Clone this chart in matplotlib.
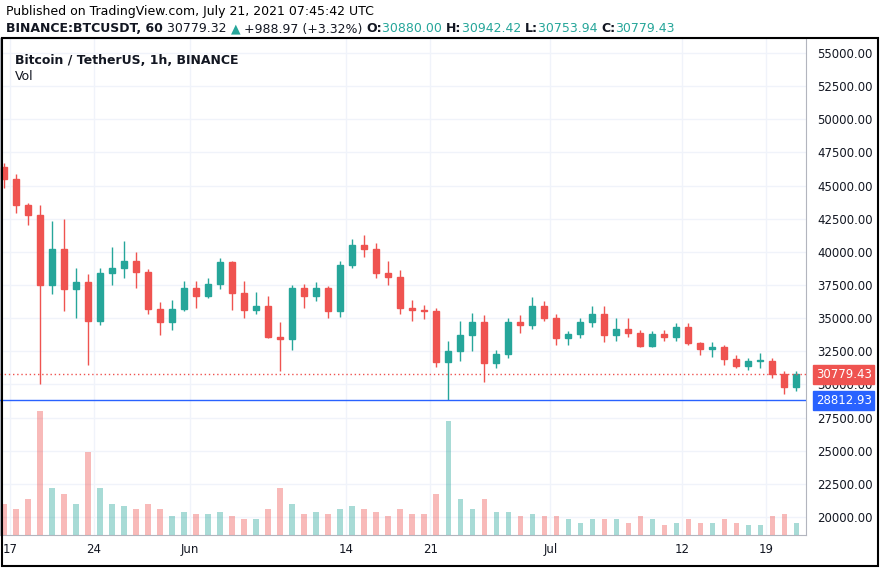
import matplotlib
matplotlib.use("Agg")
import matplotlib.pyplot as plt
from matplotlib.patches import Rectangle

# daily candles, day index relative to May 17 2021 (first = May 16)
first_open = 46400
closes = [45500,43500,42800,37500,40200,37200,37700,34800,38400,38800,39300,38500,35700,34700,35700,37300,
          36700,37600,39200,36900,35600,35900,33600,33400,37300,36700,37300,35500,39000,40500,40200,38400,38100,35800,35600,35500,31700,32500,33700,34700,31600,32300,34700,34500,35900,35000,
          33500,33800,34700,35300,33700,34200,33900,32900,33800,33600,34300,33100,32700,32800,31900,31400,31800,31800,30800,29800,30779]
highs = [46700,45900,43700,43500,42300,42500,38800,38300,38800,40400,40800,40000,38700,36200,36400,37800,
         37800,38000,39500,39300,37800,37000,36700,34700,37500,37600,37700,37400,39300,41000,41300,40700,39300,38600,36400,36000,35800,33300,34800,35400,35200,32600,35000,35200,36600,36300,
         35300,34000,35000,35900,35900,35000,35000,34100,34000,34100,34600,34600,33200,33200,33000,32200,32000,32400,32000,31000,31000]
lows = [44800,42900,42000,30000,36800,35500,35000,31500,34500,37500,38000,37300,35300,33700,34100,35500,
        35800,36500,37200,35600,35000,35300,33500,31000,32600,35800,36300,35000,35100,38800,39600,38000,37500,35300,34800,34900,31300,28800,31800,32500,30200,31200,32000,33900,34200,34800,
        33000,33000,33500,34300,33200,33300,33600,32800,32800,33300,33300,33000,32200,32100,31500,31200,31100,31200,30500,29300,29500]
volumes = [30,25,35,120,45,40,30,80,45,30,28,25,30,25,18,22,
           20,20,22,18,15,15,25,45,30,20,22,20,25,28,25,22,18,25,20,20,40,110,35,25,35,22,22,18,20,18,
           18,15,12,15,15,15,12,18,15,10,12,15,12,12,15,12,10,10,18,20,12]
tick_days = [0, 7, 15, 28, 35, 45, 56, 63]
tick_labels = ["17", "24", "Jun", "14", "21", "Jul", "12", "19"]
price_ticks = [20000 + 2500*i for i in range(15)]
last_price = 30779.43
low_line = 28812.93

UP, DN = "#26a69a", "#ef5350"
fig = plt.figure(figsize=(8.86, 5.7), dpi=100)
ax = fig.add_axes([0.0, 35/570, 806/886, (535-38)/570])
ax.set_ylim(18640, 56130)
ax.set_xlim(-0.83, 66.3)

vax = ax.twinx()
vax.set_ylim(0, max(volumes)*4.0)
vax.set_yticks([])

opens = [first_open] + closes[:-1]
for i, (o, h, l, c, v) in enumerate(zip(opens, highs, lows, closes, volumes)):
    x = i - 1 + 0.5
    col = UP if c >= o else DN
    ax.vlines(x, min(l, o, c), max(h, o, c), color=col, lw=1, zorder=3)
    ax.add_patch(Rectangle((x-0.25, min(o, c)), 0.5, max(abs(c-o), 30), color=col, zorder=4))
    vax.bar(x, v, width=0.45, color=col, alpha=0.4, zorder=1)

ax.axhline(last_price, color=DN, ls=(0, (1, 2)), lw=1, zorder=5)
ax.axhline(low_line, color="#2962ff", lw=1, zorder=5)

ax.set_yticks(price_ticks)
ax.set_xticks(tick_days)
ax.grid(color="#f0f3fa", lw=1)
ax.set_axisbelow(True)
ax.yaxis.tick_right()
ax.set_yticklabels([f"{p:.2f}" for p in price_ticks], fontsize=8.5, color="#131722")
ax.set_xticklabels(tick_labels, fontsize=8.5, color="#131722")
ax.tick_params(length=0, pad=6)
ax.tick_params(axis="y", pad=8)
for s in ax.spines.values():
    s.set_color("#b2b5be")
for s in vax.spines.values():
    s.set_visible(False)

for val, col in [(last_price, DN), (low_line, "#2962ff")]:
    ax.text(1.012, val, f"{val:.2f}", transform=ax.get_yaxis_transform(), fontsize=8.5,
            color="white", va="center", ha="left",
            bbox=dict(boxstyle="square,pad=0.25", fc=col, ec=col), zorder=10)

fig.text(6/886, 1-12/570, "Published on TradingView.com, July 21, 2021 07:45:42 UTC", fontsize=9, va="center")
x0 = 6/886
y1 = 1-29/570
parts = [("BINANCE:BTCUSDT, 60 ", "#131722", "bold"), ("30779.32 ", "#131722", "normal"),
         ("\u25B2", UP, "normal"), (" +988.97 (+3.32%) ", "#131722", "normal"),
         ("O:", "#131722", "bold"), ("30880.00 ", UP, "normal"), ("H:", "#131722", "bold"),
         ("30942.42 ", UP, "normal"), ("L:", "#131722", "bold"), ("30753.94 ", UP, "normal"),
         ("C:", "#131722", "bold"), ("30779.43", UP, "normal")]
fig.canvas.draw()
r = fig.canvas.get_renderer()
for t, c, w in parts:
    tx = fig.text(x0, y1, t, fontsize=9, color=c, weight=w, va="center")
    bb = tx.get_window_extent(renderer=r)
    x0 += bb.width/886
fig.text(15/886, 1-60/570, "Bitcoin / TetherUS, 1h, BINANCE", fontsize=9, weight="bold", va="center", color="#131722")
fig.text(15/886, 1-77/570, "Vol", fontsize=9, va="center", color="#131722")
border = Rectangle((2/886, 4/570), 876/886, (570-42)/570, transform=fig.transFigure,
                   fill=False, ec="black", lw=1.5)
fig.patches.append(border)
fig.savefig("out.png", dpi=100)
